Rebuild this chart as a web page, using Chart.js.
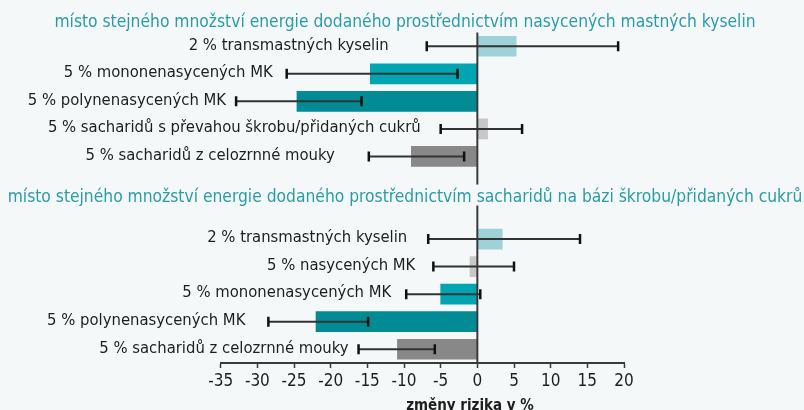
<!DOCTYPE html>
<html lang="cs">
<head>
<meta charset="utf-8">
<script src="https://cdn.jsdelivr.net/npm/chart.js@4.4.1/dist/chart.umd.min.js"></script>
<style>
  html, body { margin: 0; padding: 0; background: #f4f8f8; }
  #wrap { width: 804px; height: 410px; }
</style>
</head>
<body>
<div id="wrap"><canvas id="chart" width="804" height="410"></canvas></div>
<script>
/* ============================
   DATA
============================ */
const title1 = "místo stejného množství energie dodaného prostřednictvím nasycených mastných kyselin";
const title2 = "místo stejného množství energie dodaného prostřednictvím sacharidů na bázi škrobu/přidaných cukrů";

const labelsTop = [
    "2 % transmastných kyselin",
    "5 % mononenasycených MK",
    "5 % polynenasycených MK",
    "5 % sacharidů s převahou škrobu/přidaných cukrů",
    "5 % sacharidů z celozrnné mouky"
];
const valuesTop = [5.3, -14.6, -24.6, 1.4, -9];
const lowTop    = [-6.9, -26, -32.9, -5, -14.8];
const highTop   = [19.2, -2.7, -15.8, 6.1, -1.8];

const labelsBottom = [
    "2 % transmastných kyselin",
    "5 % nasycených MK",
    "5 % mononenasycených MK",
    "5 % polynenasycených MK",
    "5 % sacharidů z celozrnné mouky"
];
const valuesBottom = [3.4, -1, -5, -22, -10.9];
const lowBottom    = [-6.7, -6, -9.7, -28.5, -16.2];
const highBottom   = [14, 5, 0.4, -14.9, -5.8];

const xTicks = [-35, -30, -25, -20, -15, -10, -5, 0, 5, 10, 15, 20];
const axisTitle = "změny rizika v %";

/* ============================
   STYLE / LAYOUT
============================ */
const FONT = "'Liberation Sans Narrow', 'DejaVu Sans Condensed', 'Roboto', sans-serif";
const BG = "#f4f8f8";
const C = {
    trans: "#9fd1d8",
    mono: "#00a5b1",
    poly: "#008b95",
    light: "#c8c8c8",
    dark: "#888888"
};
const colorsTop = [C.trans, C.mono, C.poly, C.light, C.dark];
const colorsBottom = [C.trans, C.light, C.mono, C.poly, C.dark];
// px gap between label end and error bar start (hand placed in original)
const gapsTop = [38, 14, 10, 20, 34];
const gapsBottom = [21, 18, 15, 23, 10];

// two empty slots between the panels
const slots = [...labelsTop, "", "", ...labelsBottom];
const values = [...valuesTop, null, null, ...valuesBottom];
const lows = [...lowTop, null, null, ...lowBottom];
const highs = [...highTop, null, null, ...highBottom];
const colors = [...colorsTop, BG, BG, ...colorsBottom];
const gaps = [...gapsTop, 0, 0, ...gapsBottom];

/* ============================
   PLUGIN: error bars, labels, titles
============================ */
const overlay = {
    id: "overlay",
    beforeDraw(chart) {
        const ctx = chart.ctx;
        ctx.save();
        ctx.fillStyle = BG;
        ctx.fillRect(0, 0, chart.width, chart.height);
        ctx.restore();
    },
    afterDatasetsDraw(chart) {
        const ctx = chart.ctx;
        const xs = chart.scales.x;
        const area = chart.chartArea;
        const meta = chart.getDatasetMeta(0);

        ctx.save();
        // zero line
        const x0 = xs.getPixelForValue(0);
        ctx.strokeStyle = "#3a3a3a";
        ctx.lineWidth = 2;
        ctx.beginPath();
        ctx.moveTo(x0, area.top);
        ctx.lineTo(x0, area.bottom);
        ctx.stroke();

        meta.data.forEach((bar, i) => {
            if (values[i] === null) return;
            const y = bar.y;
            const xl = xs.getPixelForValue(lows[i]);
            const xh = xs.getPixelForValue(highs[i]);

            ctx.strokeStyle = "#333";
            ctx.lineWidth = 2;
            ctx.beginPath();
            ctx.moveTo(xl, y);
            ctx.lineTo(xh, y);
            ctx.stroke();

            ctx.strokeStyle = "#111";
            ctx.lineWidth = 2.5;
            ctx.beginPath();
            ctx.moveTo(xl, y - 5);
            ctx.lineTo(xl, y + 5);
            ctx.moveTo(xh, y - 5);
            ctx.lineTo(xh, y + 5);
            ctx.stroke();

            ctx.fillStyle = "#1e1e1e";
            ctx.font = "16.5px " + FONT;
            ctx.textAlign = "right";
            ctx.textBaseline = "middle";
            ctx.fillText(slots[i], xl - gaps[i], y - 1);
        });

        // panel titles
        const ys = chart.scales.y;
        ctx.font = "17.3px " + FONT;
        ctx.textAlign = "center";
        ctx.textBaseline = "alphabetic";
        const cx = 405;
        const t1y = ys.getPixelForValue(0) - 19.5;
        const t2y = ys.getPixelForValue(7) - 37.5;

        const w2 = ctx.measureText(title2).width;
        ctx.fillStyle = BG;
        ctx.fillRect(cx - w2 / 2 - 4, t2y - 17, w2 + 8, 21);

        ctx.fillStyle = "#2a9ca8";
        ctx.fillText(title1, cx, t1y);
        ctx.fillText(title2, cx, t2y);

        // axis title
        ctx.fillStyle = "#1e1e1e";
        ctx.font = "bold 15px " + FONT;
        ctx.fillText(axisTitle, 470, 410);
        ctx.restore();
    }
};

/* ============================
   CHART
============================ */
new Chart(document.getElementById("chart"), {
    type: "bar",
    data: {
        labels: slots,
        datasets: [{
            data: values,
            backgroundColor: colors,
            borderWidth: 0,
            barThickness: 20
        }]
    },
    options: {
        indexAxis: "y",
        responsive: false,
        animation: false,
        layout: { padding: { left: 220.7, right: 180, top: 32.5, bottom: 0 } },
        plugins: {
            legend: { display: false },
            tooltip: { enabled: false }
        },
        scales: {
            y: { display: false },
            x: {
                type: "linear",
                min: -35,
                max: 20,
                afterBuildTicks: s => { s.ticks = xTicks.map(v => ({ value: v })); },
                afterFit: s => { s.height = 47; },
                border: { display: true, color: "#3a3a3a", width: 2 },
                grid: {
                    display: true,
                    drawOnChartArea: false,
                    drawTicks: true,
                    tickLength: 5,
                    tickColor: "#3a3a3a",
                    tickWidth: 1.5
                },
                ticks: {
                    padding: 3,
                    color: "#1e1e1e",
                    font: { family: FONT, size: 17 },
                    callback: v => String(v)
                }
            }
        }
    },
    plugins: [overlay]
});
</script>
</body>
</html>
